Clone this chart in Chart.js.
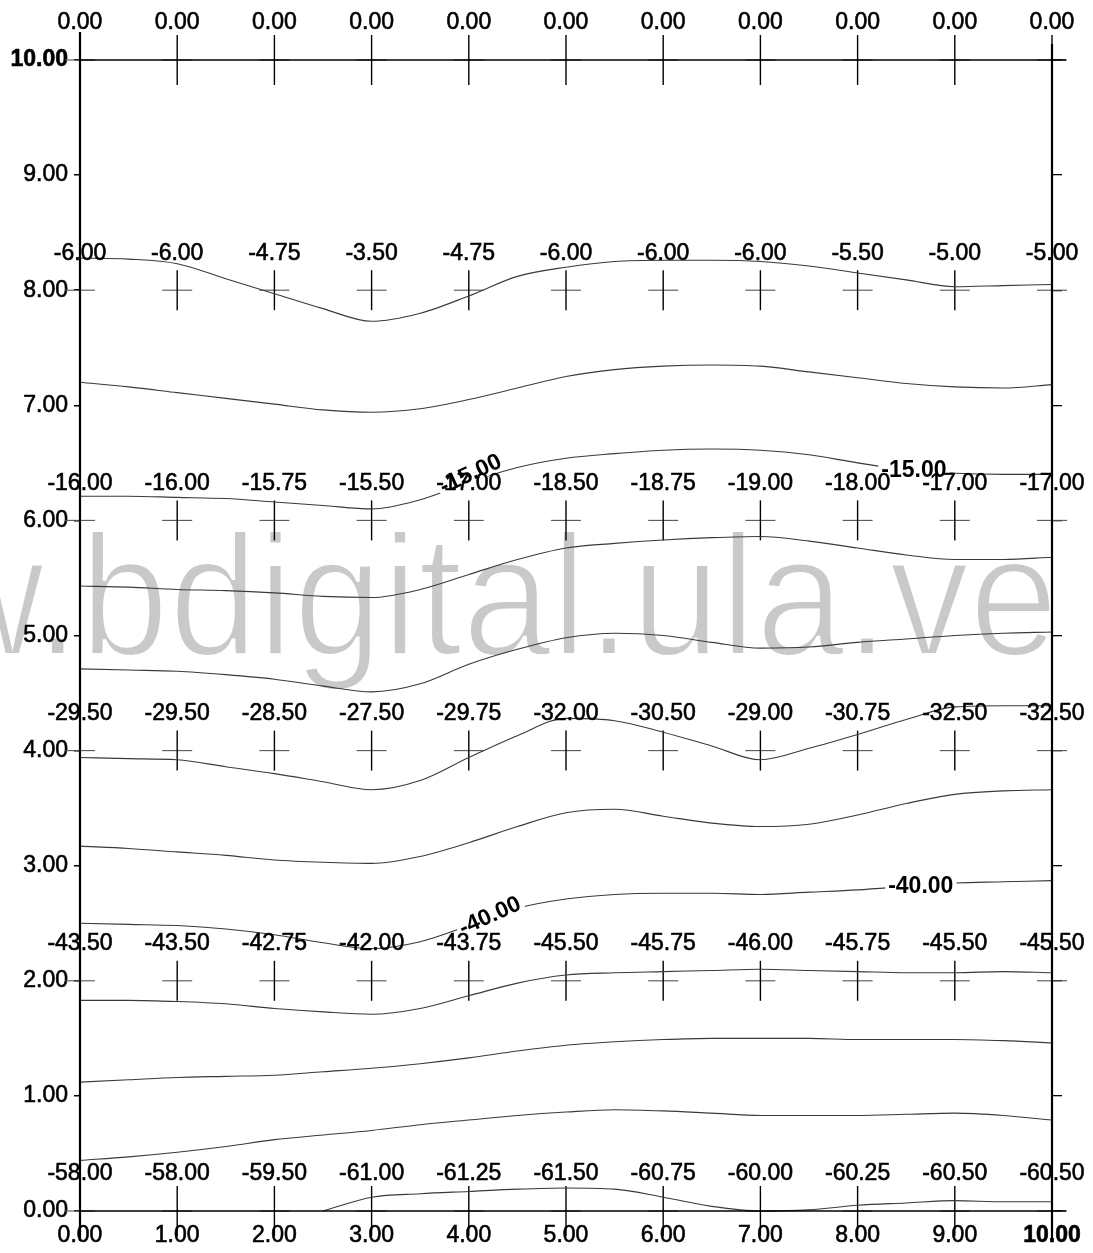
<!DOCTYPE html>
<html>
<head>
<meta charset="utf-8">
<script src="https://cdn.jsdelivr.net/npm/chart.js@4.4.1/dist/chart.umd.min.js"></script>
<style>
  html, body { margin: 0; padding: 0; background: #fff; }
  #wrap { width: 1093px; height: 1253px; }
</style>
</head>
<body>
<div id="wrap"><canvas id="c"></canvas></div>
<script>
// grid of measured values (columns x = 0..10, rows y = 10, 8, ..., 0)
const xCols = [0, 1, 2, 3, 4, 5, 6, 7, 8, 9, 10];
const rowY = [10, 8, 6, 4, 2, 0];
const row10 = [0, 0, 0, 0, 0, 0, 0, 0, 0, 0, 0];
const row8 = [-6.00, -6.00, -4.75, -3.50, -4.75, -6.00, -6.00, -6.00, -5.50, -5.00, -5.00];
const row6 = [-16.00, -16.00, -15.75, -15.50, -17.00, -18.50, -18.75, -19.00, -18.00, -17.00, -17.00];
const row4 = [-29.50, -29.50, -28.50, -27.50, -29.75, -32.00, -30.50, -29.00, -30.75, -32.50, -32.50];
const row2 = [-43.50, -43.50, -42.75, -42.00, -43.75, -45.50, -45.75, -46.00, -45.75, -45.50, -45.50];
const row0 = [-58.00, -58.00, -59.50, -61.00, -61.25, -61.50, -60.75, -60.00, -60.25, -60.50, -60.50];
const rowValues = [row10, row8, row6, row4, row2, row0];

// contour lines, y at x = 0, 0.5, ..., 10
const contourX = [0, 0.5, 1, 1.5, 2, 2.5, 3, 3.5, 4, 4.5, 5, 5.5, 6, 6.5, 7, 7.5, 8, 8.5, 9, 9.5, 10];
const c5  = [8.28, 8.27, 8.23, 8.10, 7.97, 7.84, 7.73, 7.80, 7.95, 8.12, 8.20, 8.25, 8.26, 8.26, 8.25, 8.21, 8.15, 8.09, 8.03, 8.04, 8.05];
const c10 = [7.20, 7.16, 7.11, 7.06, 7.01, 6.96, 6.94, 6.97, 7.05, 7.15, 7.25, 7.31, 7.34, 7.35, 7.34, 7.29, 7.24, 7.19, 7.16, 7.15, 7.18];
const c15 = [6.21, 6.21, 6.20, 6.19, 6.16, 6.13, 6.10, 6.18, 6.33, 6.46, 6.54, 6.58, 6.61, 6.62, 6.61, 6.57, 6.50, 6.44, 6.41, 6.40, 6.40];
const c20 = [5.43, 5.42, 5.40, 5.39, 5.37, 5.34, 5.33, 5.40, 5.53, 5.66, 5.76, 5.80, 5.83, 5.85, 5.86, 5.82, 5.76, 5.70, 5.66, 5.66, 5.68];
const c25 = [4.71, 4.70, 4.69, 4.66, 4.62, 4.56, 4.51, 4.58, 4.75, 4.88, 4.98, 5.02, 5.00, 4.94, 4.89, 4.90, 4.94, 4.97, 5.00, 5.02, 5.03];
const c30 = [3.94, 3.93, 3.92, 3.86, 3.80, 3.73, 3.66, 3.74, 3.94, 4.13, 4.28, 4.26, 4.16, 4.04, 3.92, 4.02, 4.14, 4.27, 4.38, 4.39, 4.39];
const c35 = [3.17, 3.15, 3.12, 3.09, 3.05, 3.03, 3.02, 3.08, 3.20, 3.34, 3.46, 3.49, 3.43, 3.37, 3.34, 3.36, 3.44, 3.54, 3.62, 3.65, 3.66];
const c40 = [2.50, 2.49, 2.48, 2.45, 2.40, 2.33, 2.28, 2.34, 2.48, 2.63, 2.71, 2.75, 2.76, 2.76, 2.75, 2.77, 2.79, 2.82, 2.85, 2.86, 2.87];
const c45 = [1.83, 1.83, 1.82, 1.80, 1.76, 1.73, 1.71, 1.76, 1.87, 1.98, 2.05, 2.07, 2.08, 2.09, 2.10, 2.09, 2.08, 2.07, 2.07, 2.08, 2.07];
const c50 = [1.12, 1.14, 1.16, 1.17, 1.18, 1.21, 1.24, 1.28, 1.33, 1.39, 1.44, 1.47, 1.49, 1.50, 1.50, 1.50, 1.49, 1.49, 1.49, 1.48, 1.46];
const c55 = [0.44, 0.47, 0.51, 0.56, 0.62, 0.66, 0.70, 0.75, 0.79, 0.83, 0.86, 0.88, 0.87, 0.85, 0.83, 0.83, 0.83, 0.84, 0.85, 0.83, 0.79];
const c60 = [null, null, null, null, null, 0.00, 0.12, 0.15, 0.17, 0.19, 0.20, 0.19, 0.12, 0.04, 0.00, 0.01, 0.05, 0.07, 0.09, 0.08, 0.08];
const contours = [c5, c10, c15, c20, c25, c30, c35, c40, c45, c50, c55, c60];

// labels placed on contour lines
const contourLabels = [
  { text: "-15.00", x: 4.02, y: 6.40, angle: -25 },
  { text: "-15.00", x: 8.58, y: 6.43, angle: 0 },
  { text: "-40.00", x: 4.22, y: 2.56, angle: -24 },
  { text: "-40.00", x: 8.65, y: 2.82, angle: 0 }
];
const watermark = "www.bdigital.ula.ve";

const FONT = "'Liberation Sans', Arial, sans-serif";

const toPoints = (xs, ys) => xs.map((x, i) => ({ x, y: ys[i] })).filter(p => p.y !== null);

const gridPoints = [];
rowY.forEach(y => xCols.forEach(x => gridPoints.push({ x, y })));

const datasets = contours.map(ys => ({
  data: toPoints(contourX, ys),
  showLine: true,
  borderColor: "#3a3a3a",
  borderWidth: 1.1,
  pointRadius: 0,
  cubicInterpolationMode: "monotone",
  clip: false
}));

// crosses at the grid nodes
datasets.push({
  data: gridPoints,
  showLine: false,
  pointStyle: "line",
  pointRotation: 90,
  pointRadius: ctx => (ctx.raw && (ctx.raw.y === 0 || ctx.raw.y === 10)) ? 25 : 20,
  pointBorderColor: "#000",
  pointBorderWidth: 1.4,
  clip: false
});
datasets.push({
  data: gridPoints,
  showLine: false,
  pointStyle: "line",
  pointRadius: 15,
  pointBorderColor: "#555",
  pointBorderWidth: 1.1,
  clip: false
});

const decor = {
  id: "decor",
  beforeDraw(chart) {
    // scanned watermark, narrow and light
    const ctx = chart.ctx;
    ctx.save();
    ctx.scale(0.93, 1);
    ctx.font = "172px " + FONT;
    ctx.textAlign = "left";
    ctx.textBaseline = "alphabetic";
    ctx.fillStyle = "#c9c9c9";
    ctx.fillText(watermark, -325, 655);
    ctx.strokeStyle = "#fff";
    ctx.lineWidth = 4;
    ctx.strokeText(watermark, -325, 655);
    ctx.restore();
  },
  afterDatasetsDraw(chart) {
    const { ctx, chartArea: a, scales: { x, y } } = chart;
    ctx.save();
    // top and bottom rows
    ctx.strokeStyle = "#000";
    ctx.lineWidth = 1.3;
    [10, 0].forEach(v => {
      const py = y.getPixelForValue(v);
      ctx.beginPath();
      ctx.moveTo(a.left, py);
      ctx.lineTo(a.right + 14, py);
      ctx.stroke();
    });
    // side lines
    ctx.lineWidth = 2.2;
    ctx.beginPath();
    ctx.moveTo(a.left, a.top - 28);
    ctx.lineTo(a.left, a.bottom + 30);
    ctx.moveTo(a.right, a.top - 16);
    ctx.lineTo(a.right, a.bottom + 28);
    ctx.stroke();

    // white gaps behind contour labels
    ctx.font = "bold 23px " + FONT;
    contourLabels.forEach(l => {
      const w = ctx.measureText(l.text).width;
      ctx.save();
      ctx.translate(x.getPixelForValue(l.x), y.getPixelForValue(l.y));
      ctx.rotate(l.angle * Math.PI / 180);
      ctx.fillStyle = "#fff";
      ctx.fillRect(-w / 2 - 3, -9, w + 6, 18);
      ctx.restore();
    });

    // node values
    ctx.fillStyle = "#000";
    ctx.strokeStyle = "#000";
    ctx.lineWidth = 0.6;
    ctx.font = "23px " + FONT;
    ctx.textAlign = "center";
    ctx.textBaseline = "middle";
    rowY.forEach((ry, r) => {
      xCols.forEach((cx, i) => {
        const t = rowValues[r][i].toFixed(2);
        const px = x.getPixelForValue(cx), py = y.getPixelForValue(ry) - 37;
        ctx.fillText(t, px, py);
        ctx.strokeText(t, px, py);
      });
    });

    // contour labels
    ctx.font = "bold 23px " + FONT;
    contourLabels.forEach(l => {
      ctx.save();
      ctx.translate(x.getPixelForValue(l.x), y.getPixelForValue(l.y));
      ctx.rotate(l.angle * Math.PI / 180);
      ctx.fillText(l.text, 0, 0);
      ctx.restore();
    });
    ctx.restore();
  }
};

const tickFont = ctx => ({
  family: FONT,
  size: 23,
  weight: (ctx.tick && ctx.tick.value === 10) ? "bold" : "normal"
});

new Chart(document.getElementById("c"), {
  type: "scatter",
  data: { datasets },
  plugins: [decor],
  options: {
    responsive: true,
    maintainAspectRatio: false,
    animation: false,
    events: [],
    layout: { padding: { top: 60, left: 0, right: 0, bottom: 0 } },
    plugins: { legend: { display: false }, tooltip: { enabled: false } },
    scales: {
      x: {
        type: "linear",
        min: 0,
        max: 10,
        grid: { display: false },
        border: { display: false },
        ticks: { stepSize: 1, color: "#000", font: tickFont, padding: 3, maxRotation: 0,
                 textStrokeColor: "#000", textStrokeWidth: 0.6,
                 callback: v => v.toFixed(2) },
        afterFit: s => { s.height = 42; }
      },
      y: {
        type: "linear",
        position: "left",
        min: 0,
        max: 10,
        grid: { drawOnChartArea: false, drawTicks: true, tickLength: 6, color: "#000", lineWidth: 1.5 },
        border: { display: false },
        ticks: { stepSize: 1, color: "#000", font: tickFont, padding: 6,
                 textStrokeColor: "#000", textStrokeWidth: 0.6,
                 callback: v => v.toFixed(2) },
        afterFit: s => { s.width = 80; }
      },
      y2: {
        type: "linear",
        position: "right",
        min: 0,
        max: 10,
        grid: { drawOnChartArea: false, drawTicks: true, tickLength: 10, color: "#000", lineWidth: 1.3 },
        border: { display: false },
        ticks: { stepSize: 1, display: false },
        afterFit: s => { s.width = 41; }
      }
    }
  }
});
</script>
</body>
</html>
